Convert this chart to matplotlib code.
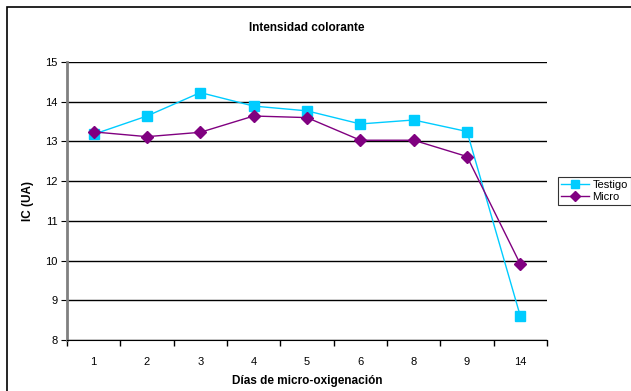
import numpy as np
import matplotlib.pyplot as plt
from matplotlib.patches import Rectangle

plt.rcParams['font.family'] = ['Liberation Sans', 'DejaVu Sans']

# data
dias = ['1', '2', '3', '4', '5', '6', '8', '9', '14']
testigo = [13.18, 13.64, 14.23, 13.89, 13.77, 13.44, 13.54, 13.25, 8.60]
micro = [13.24, 13.12, 13.23, 13.64, 13.60, 13.03, 13.03, 12.62, 9.91]

fig = plt.figure(figsize=(6.31, 3.91), dpi=100)
ax = fig.add_axes([67/631, 51/391, 480/631, 278/391])

# outer chart border
fig.patches.append(Rectangle((7/631, -0.1), 1.0, 1.0 + 0.1 - 7/391,
                             transform=fig.transFigure, fill=False,
                             edgecolor='black', lw=1.2))

x = np.arange(len(dias))
ax.plot(x, testigo, color='#00CCFF', lw=1, marker='s', ms=7,
        mec='#00CCFF', mfc='#00CCFF', label='Testigo', zorder=3)
ax.plot(x, micro, color='#800080', lw=1, marker='D', ms=6.5,
        mec='#800080', mfc='#800080', label='Micro', zorder=3)

ax.set_xlim(-0.5, len(dias) - 0.5)
ax.set_ylim(8, 15)
ax.set_yticks(range(8, 16))
ax.set_xticks(x)
ax.set_xticklabels(dias)
ax.set_xticks(np.arange(-0.5, len(dias)), minor=True)
ax.tick_params(axis='x', which='major', length=0, pad=12, labelsize=8)
ax.tick_params(axis='x', which='minor', length=4, direction='out', width=1)
ax.tick_params(axis='y', length=4, direction='out', labelsize=8, pad=3)

ax.grid(axis='y', color='black', lw=1)
ax.set_axisbelow(True)
for s in ['top', 'right']:
    ax.spines[s].set_visible(False)
ax.spines['left'].set_color('#808080')
ax.spines['left'].set_linewidth(2)
ax.spines['bottom'].set_color('black')

ax.set_title('Intensidad colorante', fontsize=8.5, fontweight='bold',
             pad=22)
ax.set_ylabel('IC (UA)', fontsize=8.5, fontweight='bold', labelpad=8)
ax.set_xlabel('Días de micro-oxigenación', fontsize=8.5, fontweight='bold',
              labelpad=6)

leg = ax.legend(loc='center left', bbox_to_anchor=(558/631, 200/391),
                bbox_transform=fig.transFigure, fontsize=8, frameon=True,
                fancybox=False, edgecolor='black', handlelength=2.5,
                borderpad=0.3, labelspacing=0.2, handletextpad=0.3,
                borderaxespad=0, markerscale=0.75)
leg.get_frame().set_linewidth(0.8)

fig.savefig('out.png', dpi=100)
